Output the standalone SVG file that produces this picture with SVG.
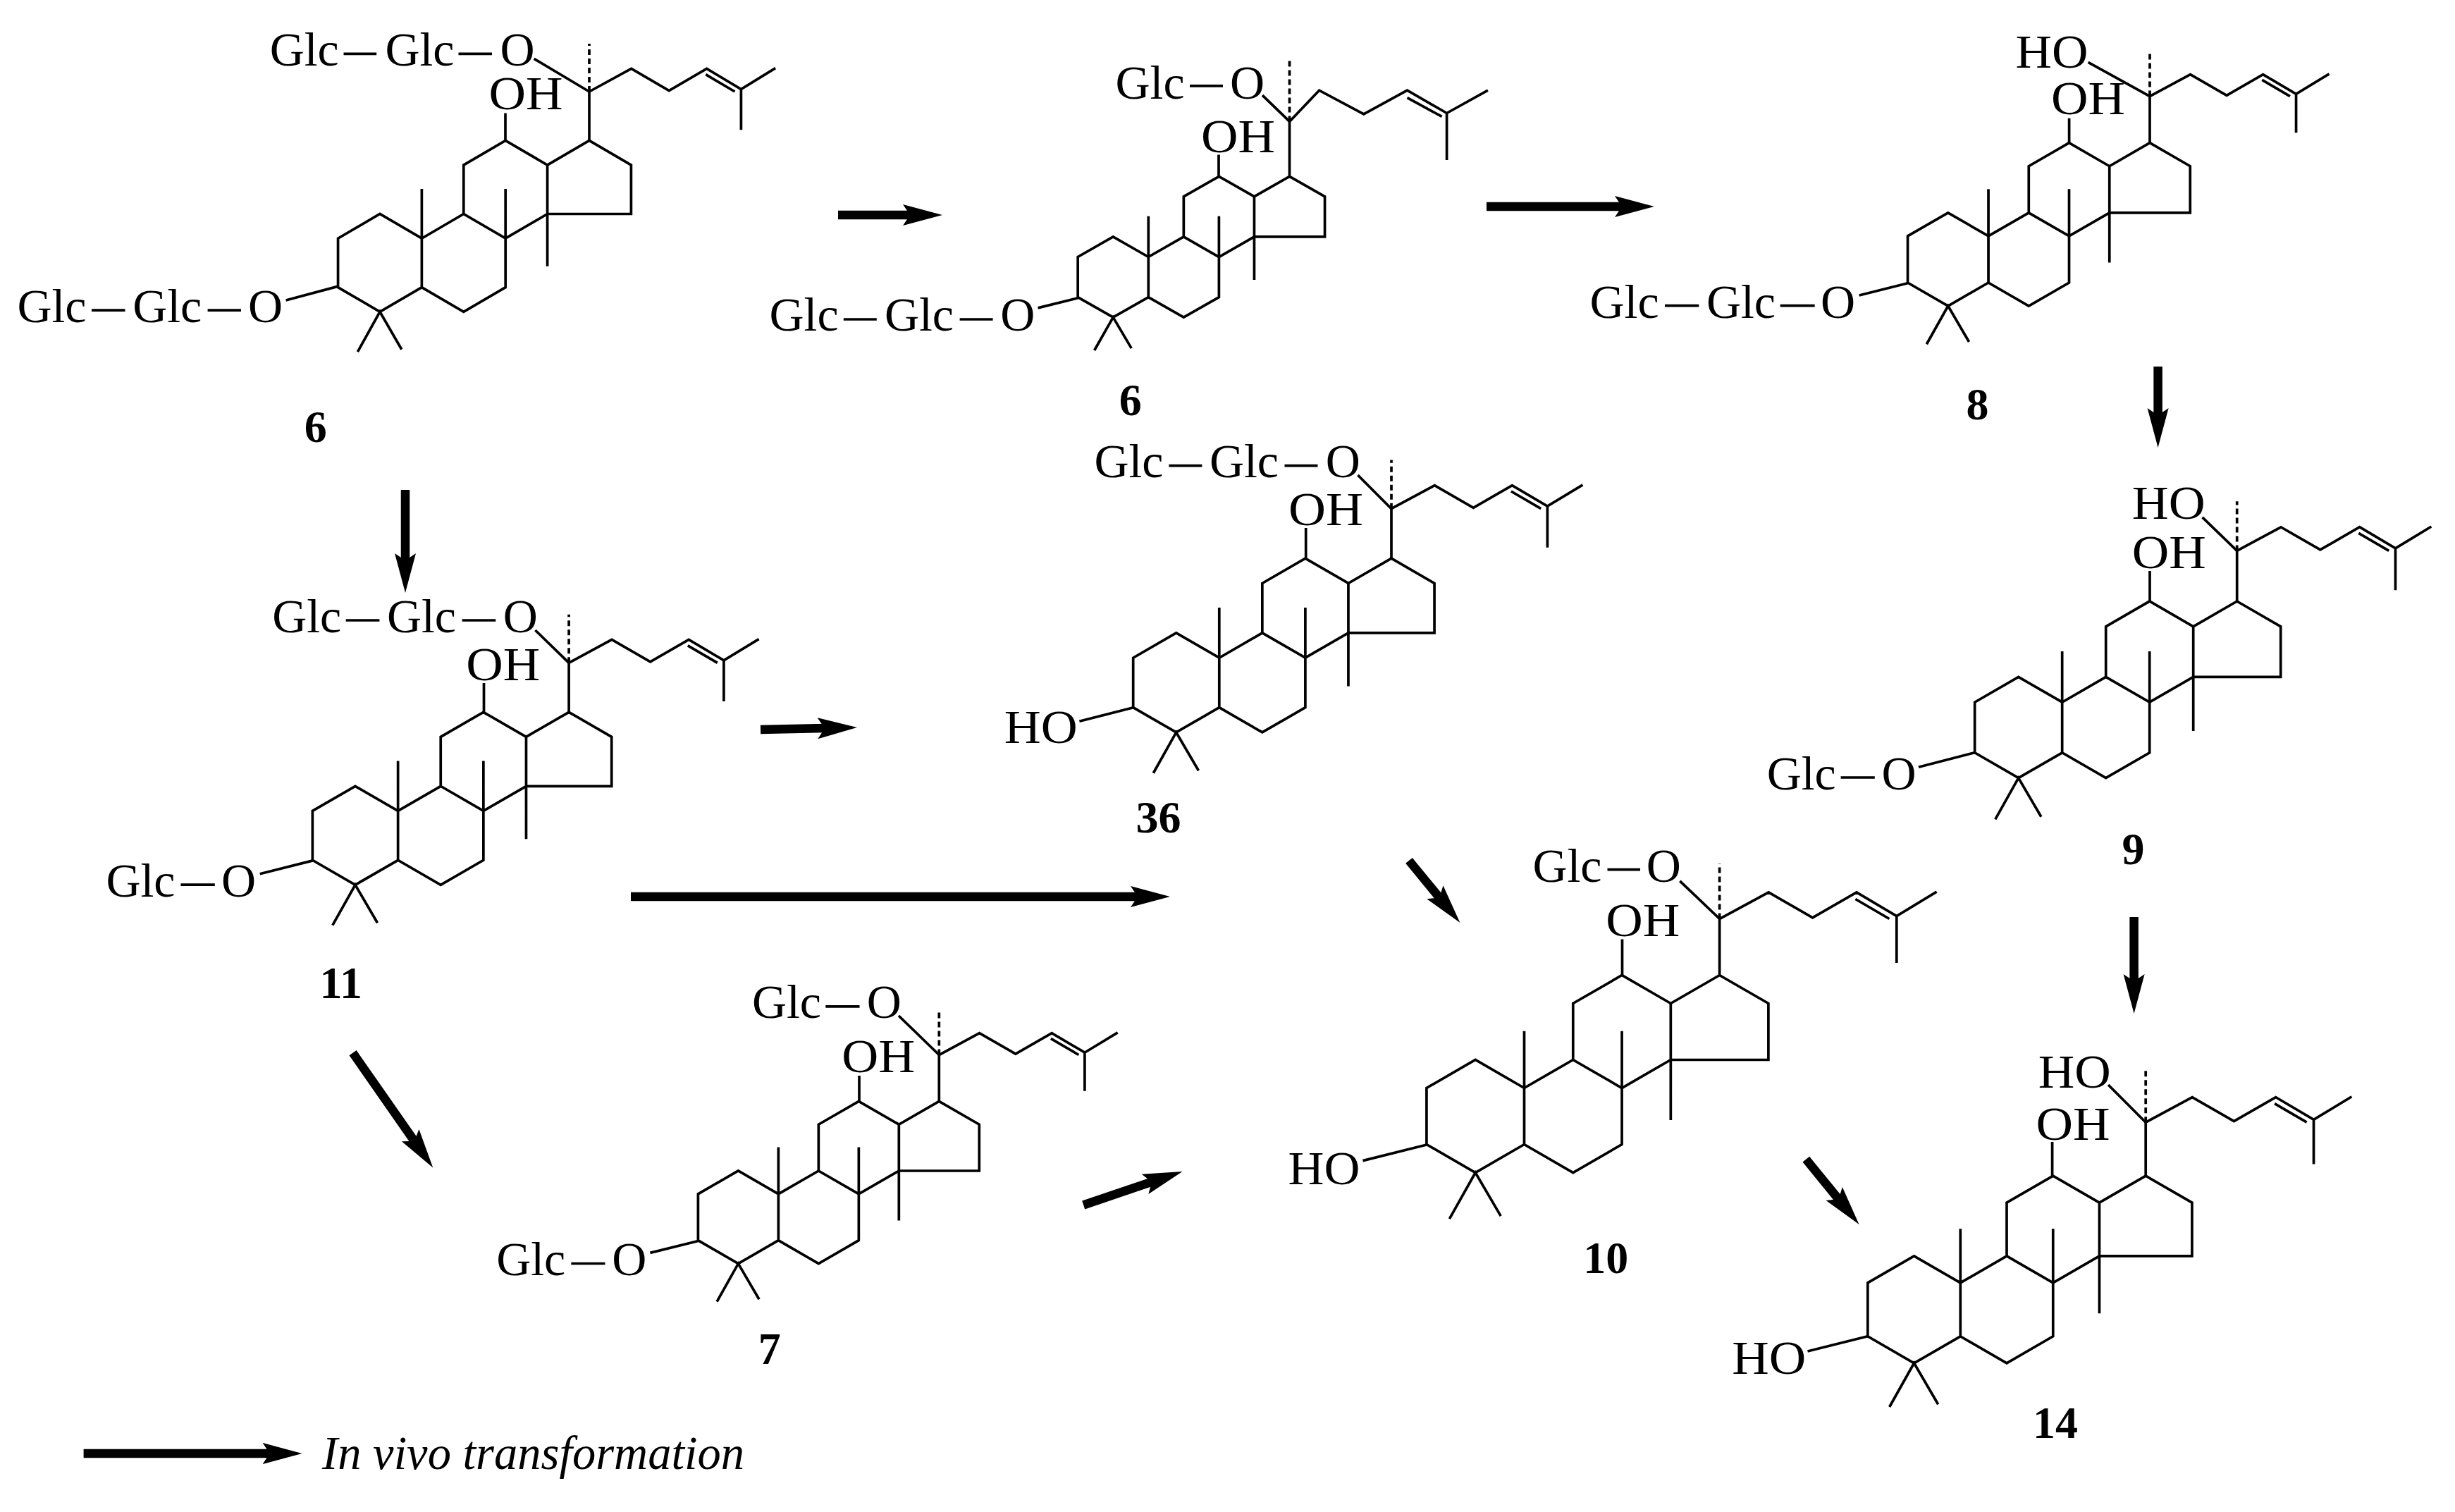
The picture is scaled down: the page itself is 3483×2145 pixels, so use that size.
<svg xmlns="http://www.w3.org/2000/svg" width="3483" height="2145" viewBox="0 0 3483 2145">
<style>
.b{fill:none;stroke:#000;stroke-width:3.7;stroke-linejoin:miter;stroke-linecap:butt;vector-effect:non-scaling-stroke}
.d{stroke-dasharray:8 5}
.a{fill:none;stroke:#000;stroke-width:12.5;marker-end:url(#ah)}
text{font-family:"Liberation Serif","Times New Roman",serif;font-size:68px;fill:#000}
.n{font-weight:bold;font-size:64px;text-anchor:middle}
.i{font-style:italic}
</style>
<defs>
<marker id="ah" markerUnits="userSpaceOnUse" markerWidth="60" markerHeight="34" refX="10" refY="17" orient="auto"><path d="M0 2L56 17L0 32L10 17Z" fill="#000"/></marker>
<g id="rings"><path class="b" d="M0 100L86.6 150L86.6 250L-86.6 250L-86.6 150L0 100M-86.6 150L-173.2 100L-259.8 150L-259.8 250L-173.2 300L-86.6 250M-86.6 150L-86.6 357M-259.8 250L-346.4 300L-346.4 400L-259.8 450L-173.2 400L-173.2 199M-346.4 199L-346.4 300M-346.4 300L-433 250L-519.6 300L-519.6 400L-433 450L-346.4 400M-479 532L-433 450L-388 527"/></g>
<g id="chain"><path class="b" d="M0 100L0 0L87 -47L165 -2L243 -47L314 -5L385 -48M314 -5L314 78M241 -35L301 0"/><path class="b d" d="M0 0V-98"/></g>
</defs>
<rect width="3483" height="2145" fill="#fff"/>
<g id="connectors">
<path class="a" d="M1189 305H1291"/>
<path class="a" d="M2109 293H2301"/>
<path class="a" d="M3061.6 520V589"/>
<path class="a" d="M575 695V795"/>
<path class="a" d="M1079 1035L1170 1033"/>
<path class="a" d="M895 1272H1614"/>
<path class="a" d="M500.6 1493.7L587.9 1618.8"/>
<path class="a" d="M1537.2 1709.5L1634 1676.7"/>
<path class="a" d="M1999 1220.9L2042.2 1273.5"/>
<path class="a" d="M2562.3 1644.6L2608.5 1701.3"/>
<path class="a" d="M3027.6 1301V1392"/>
</g>
<g id="mol-6a">
<g transform="translate(836 130) scale(.686 .694)"><use href="#rings"/><use href="#chain"/></g>
<path class="b" d="M487.5 76.3H534.2M650.5 76.3H698M757.6 83.3L836 130M717 160.5V200.4M130 440.2H177.5M294.6 440.2H342M405.6 426L479 406.4"/>
<text x="382.7" y="93.4" textLength="98">Glc</text><text x="546.4" y="93.4" textLength="98">Glc</text><text x="709.4" y="93.4">O</text>
<text x="693.4" y="155" textLength="105" lengthAdjust="spacingAndGlyphs">OH</text>
<text x="24.5" y="457.2" textLength="98">Glc</text><text x="188.3" y="457.2" textLength="98">Glc</text><text x="352" y="457.2">O</text>
<text class="n" x="447.7" y="626.8">6</text>
</g>
<g id="mol-6b">
<use href="#rings" transform="translate(1829.5 193.2) scale(.578 .571)"/>
<path class="b" d="M1829.5 250.3V172.4L1871.6 128.2L1934.8 161.9L1996.5 128.2L2052.6 160.5L2110.9 128.2M2052.6 160.5V227.1M1996.5 138.7L2045.6 165.4"/>
<path class="b d" d="M1829.5 172.4V86.1"/>
<path class="b" d="M1688 121.9H1735M1791 135.2L1829.5 172.4M1729 219.4V250.3M1196.8 453H1243.8M1361.6 453H1408.6M1472.5 436.9L1529.3 422.8"/>
<text x="1582.6" y="139.7" textLength="98">Glc</text><text x="1745" y="139.7">O</text>
<text x="1704" y="215.5" textLength="105" lengthAdjust="spacingAndGlyphs">OH</text>
<text x="1091.6" y="469.4" textLength="98">Glc</text><text x="1255" y="469.4" textLength="98">Glc</text><text x="1419.2" y="469.4">O</text>
<text class="n" x="1603.7" y="588.7">6</text>
</g>
<g id="mol-8">
<g transform="translate(3050 136.6) scale(.661)"><use href="#rings"/><use href="#chain"/></g>
<path class="b" d="M2962.6 88.4L3050 136.6M2935.6 167.7V204.5M2362 433.6H2410.3M2525.6 433.6H2574.7M2637.7 419L2706.5 401.7"/>
<text x="2859.5" y="96" textLength="103" lengthAdjust="spacingAndGlyphs">HO</text>
<text x="2910" y="162" textLength="105" lengthAdjust="spacingAndGlyphs">OH</text>
<text x="2255.6" y="451" textLength="98">Glc</text><text x="2421" y="451" textLength="98">Glc</text><text x="2583" y="451">O</text>
<text class="n" x="2805.5" y="595">8</text>
</g>
<g id="mol-9">
<g transform="translate(3173.7 781.4) scale(.716)"><use href="#rings"/><use href="#chain"/></g>
<path class="b" d="M3124.6 733.9L3173.7 781.4M3050 810V854.2M2611.6 1103H2659.8M2722 1088.2L2801.4 1067.8"/>
<text x="3024.8" y="735.8" textLength="104" lengthAdjust="spacingAndGlyphs">HO</text>
<text x="3024.8" y="806" textLength="105" lengthAdjust="spacingAndGlyphs">OH</text>
<text x="2506.8" y="1119.5" textLength="98">Glc</text><text x="2669.6" y="1119.5">O</text>
<text class="n" x="3026.4" y="1225.8">9</text>
</g>
<g id="mol-36">
<g transform="translate(1974 721.7) scale(.705)"><use href="#rings"/><use href="#chain"/></g>
<path class="b" d="M1658.4 660.7H1705.4M1822.5 660.7H1869.5M1926.4 674L1974 721.7M1852.7 749V793.2M1531.4 1023.3L1607.9 1003.7"/>
<text x="1552.5" y="677" textLength="98">Glc</text><text x="1716" y="677" textLength="98">Glc</text><text x="1880.8" y="677">O</text>
<text x="1828" y="745" textLength="106" lengthAdjust="spacingAndGlyphs">OH</text>
<text x="1424.8" y="1053.8" textLength="104" lengthAdjust="spacingAndGlyphs">HO</text>
<text class="n" x="1643.4" y="1181">36</text>
</g>
<g id="mol-11">
<g transform="translate(807.1 940.3) scale(.7)"><use href="#rings"/><use href="#chain"/></g>
<path class="b" d="M490.7 880H538.4M655.6 880H703.3M759.4 894L807.1 940.3M686.5 969V1011M256.4 1255.2H304.8M368.7 1239.8L443.7 1220.9"/>
<text x="386.2" y="897" textLength="98">Glc</text><text x="549" y="897" textLength="98">Glc</text><text x="713.8" y="897">O</text>
<text x="661.2" y="965" textLength="105" lengthAdjust="spacingAndGlyphs">OH</text>
<text x="150.5" y="1272.4" textLength="98">Glc</text><text x="314" y="1272.4">O</text>
<text class="n" x="483.7" y="1415.5">11</text>
</g>
<g id="mol-7">
<g transform="translate(1332.3 1496.5) scale(.658)"><use href="#rings"/><use href="#chain"/></g>
<path class="b" d="M1171.3 1427.8H1219.5M1275 1441L1332.3 1496.5M1219 1526V1562.8M810.3 1792.5H858.5M922.4 1777.4L990.5 1760.5"/>
<text x="1067" y="1443.9" textLength="98">Glc</text><text x="1229.8" y="1443.9">O</text>
<text x="1194.2" y="1521" textLength="104" lengthAdjust="spacingAndGlyphs">OH</text>
<text x="704.2" y="1808.5" textLength="98">Glc</text><text x="868.2" y="1808.5">O</text>
<text class="n" x="1091.8" y="1934.5">7</text>
</g>
<g id="mol-10">
<g transform="translate(2439.6 1303.5) scale(.8)"><use href="#rings"/><use href="#chain"/></g>
<path class="b" d="M2280.5 1233.6H2327M2383.3 1249.8L2439.6 1303.5M2301.5 1332.6V1384.4M1933.5 1646.6L2024 1624"/>
<text x="2174.4" y="1251.4" textLength="98">Glc</text><text x="2335.8" y="1251.4">O</text>
<text x="2278.3" y="1328.4" textLength="105" lengthAdjust="spacingAndGlyphs">OH</text>
<text x="1827.4" y="1680" textLength="102" lengthAdjust="spacingAndGlyphs">HO</text>
<text class="n" x="2278.3" y="1805.5">10</text>
</g>
<g id="mol-14">
<g transform="translate(3044.2 1592.2) scale(.759)"><use href="#rings"/><use href="#chain"/></g>
<path class="b" d="M2991.1 1539L3044.2 1592.2M2911.6 1620V1668.6M2564.5 1917L2649.6 1895.7"/>
<text x="2891.7" y="1543.3" textLength="103" lengthAdjust="spacingAndGlyphs">HO</text>
<text x="2888.4" y="1616.5" textLength="105" lengthAdjust="spacingAndGlyphs">OH</text>
<text x="2457.3" y="1948.5" textLength="105" lengthAdjust="spacingAndGlyphs">HO</text>
<text class="n" x="2916" y="2039.8">14</text>
</g>
<g id="legend">
<path class="a" d="M118.6 2062H382.6"/>
<text class="i" x="457" y="2084" textLength="599" lengthAdjust="spacingAndGlyphs">In vivo transformation</text>
</g>
</svg>
